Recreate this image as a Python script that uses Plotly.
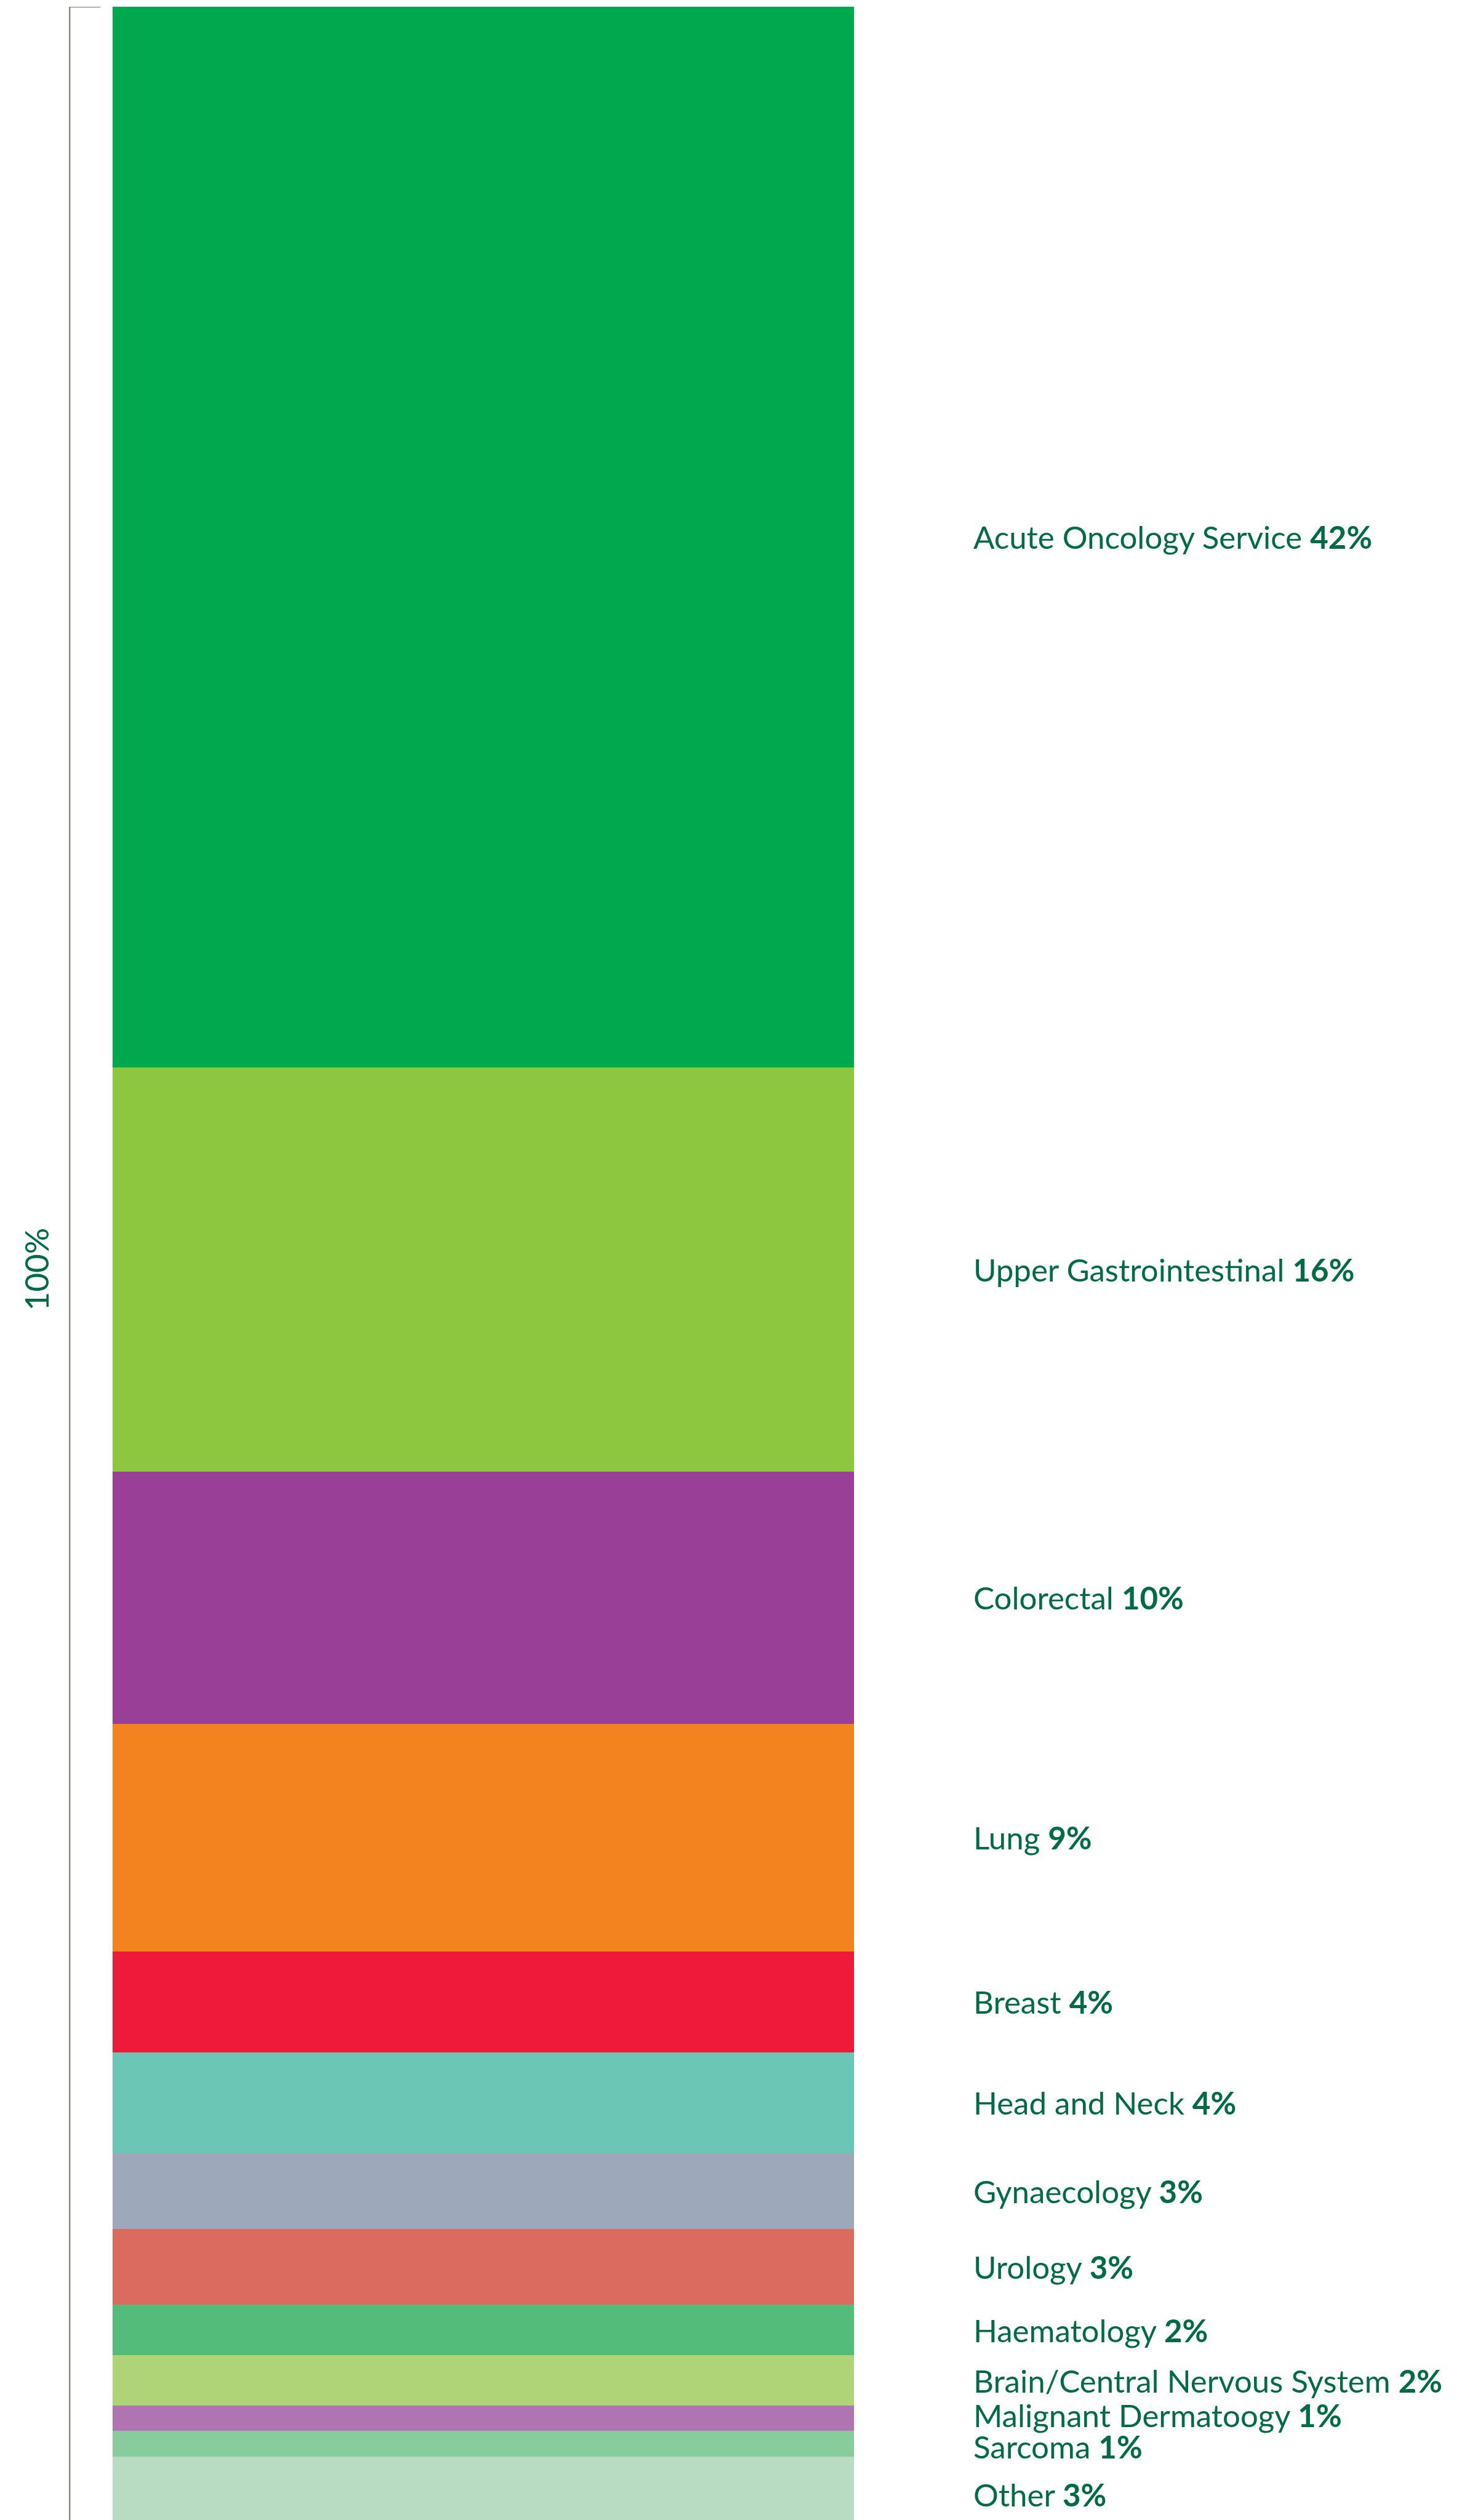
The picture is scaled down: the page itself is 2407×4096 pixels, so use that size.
import plotly.graph_objects as go

categories = ["Acute Oncology Service", "Upper Gastrointestinal", "Colorectal", "Lung",
              "Breast", "Head and Neck", "Gynaecology", "Urology", "Haematology",
              "Brain/Central Nervous System", "Malignant Dermatoogy", "Sarcoma", "Other"]
values = [42, 16, 10, 9, 4, 4, 3, 3, 2, 2, 1, 1, 3]
colors = ["#00A84E", "#8DC63F", "#993F97", "#F2831F", "#ED1A3A", "#6BC6B5",
          "#9DA9BA", "#DB6A5F", "#53BC7A", "#AFD477", "#B074B1", "#89CC9C", "#B8DCC2"]
total_label = "100%"

W, H = 2407, 4096
S = 0.821
TEXT = "#006B45"
FONT = "Lato"

bar_left = 223 * S
bar_right = 1691 * S
top = 13 * S
px_per_pct = 50 * S
plot_h = H - top
ymax = plot_h / px_per_pct

# small vertical nudges (px) for the crowded labels, as in the reference
label_nudge = {"Malignant Dermatoogy": 5, "Sarcoma": -4}

fig = go.Figure()
for cat, v, c in zip(categories, values, colors):
    fig.add_trace(go.Bar(x=[0], y=[v], name=cat, marker=dict(color=c, line=dict(width=0)),
                         width=1, hoverinfo="name+y"))

fig.update_layout(
    barmode="stack",
    width=W, height=H,
    margin=dict(l=bar_left, r=W - bar_right, t=top, b=0, pad=0),
    paper_bgcolor="white", plot_bgcolor="white",
    showlegend=False,
    bargap=0,
    xaxis=dict(range=[-0.5, 0.5], visible=False, fixedrange=True),
    yaxis=dict(range=[ymax, 0], visible=False, fixedrange=True),
)

label_x_shift = 1925 * S - bar_right
cum = 0
for cat, v in zip(categories, values):
    mid = cum + v / 2
    cum += v
    fig.add_annotation(
        x=1, xref="paper", y=mid, yref="y", xanchor="left", yanchor="middle",
        xshift=label_x_shift, yshift=label_nudge.get(cat, 0), showarrow=False,
        text=f"{cat} <b>{v}%</b>",
        font=dict(family=FONT, size=51, color=TEXT),
    )

# total bracket
line_x = 138 * S
tick_end = 199 * S
pw = bar_right - bar_left
fig.add_shape(type="line", xref="paper", yref="y",
              x0=(line_x - bar_left) / pw, x1=(line_x - bar_left) / pw,
              y0=0, y1=sum(values), line=dict(color="#8A8A82", width=2.5))
fig.add_shape(type="line", xref="paper", yref="y",
              x0=(line_x - bar_left) / pw, x1=(tick_end - bar_left) / pw,
              y0=0, y1=0, line=dict(color="#8A8A82", width=2.5))

fig.add_annotation(
    x=0, xref="paper", y=sum(values) / 2, yref="y", xanchor="center", yanchor="middle",
    xshift=71 * S - bar_left, showarrow=False, textangle=-90,
    text=total_label, font=dict(family=FONT, size=53, color=TEXT),
)

fig.write_html("out.html")
